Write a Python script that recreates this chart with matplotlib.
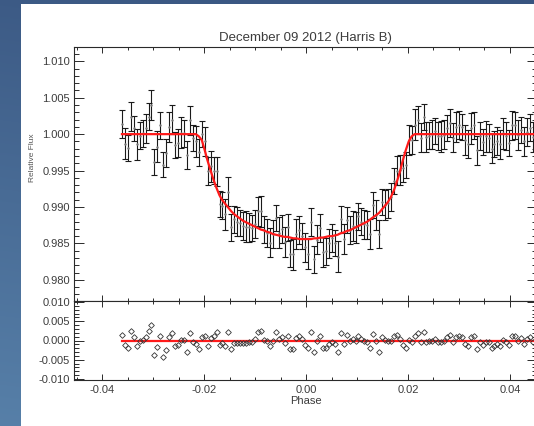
# Transit light curve, December 09 2012 (Harris B)
import numpy as np
import matplotlib
matplotlib.use("Agg")
import matplotlib.pyplot as plt
from matplotlib.patches import Rectangle
from matplotlib.ticker import MultipleLocator, FormatStrFormatter

plt.rcParams["font.family"] = ["Liberation Sans", "DejaVu Sans"]

# ── data ─────────────────────────────────────────────────────────────────────
PHASE_FIRST = -0.0361
PHASE_LAST = 0.0445

model = [1.0000] * 26 + [
    0.9997, 0.9992, 0.9978, 0.9963, 0.9950, 0.9937, 0.9926, 0.9916, 0.9909, 0.9904,
    0.9899, 0.9894, 0.9890, 0.9887, 0.9884, 0.9881, 0.9879, 0.9877, 0.9875, 0.9873,
    0.9871, 0.9869, 0.9868, 0.9866, 0.9865, 0.9863, 0.9862, 0.9861, 0.9860, 0.9859,
    0.9859, 0.9858, 0.9857, 0.9857, 0.9856, 0.9856, 0.9856, 0.9856, 0.9856, 0.9857,
    0.9857, 0.9858, 0.9858, 0.9859, 0.9860, 0.9860, 0.9861, 0.9862, 0.9864, 0.9865,
    0.9867, 0.9868, 0.9870, 0.9872, 0.9874, 0.9876, 0.9878, 0.9880, 0.9883, 0.9886,
    0.9889, 0.9892, 0.9897, 0.9902, 0.9907, 0.9914, 0.9923, 0.9935, 0.9948, 0.9964,
    0.9978, 0.9990, 0.9997, 1.0000,
] + [1.0000] * 40

resid = [
    0.0014, -0.0013, -0.0019, 0.0024, 0.0008, -0.0014, -0.0002, 0.0001, 0.0008, 0.0024,
    0.0040, -0.0038, -0.0017, 0.0012, -0.0042, -0.0026, 0.0010, 0.0020, -0.0015, -0.0012,
    0.0002, 0.0001, -0.0029, 0.0019, -0.0005, -0.0010, -0.0022, 0.0008, 0.0012, -0.0014,
    0.0006, 0.0013, 0.0023, -0.0012, -0.0007, -0.0014, 0.0022, -0.0022, -0.0007, -0.0007,
    -0.0006, -0.0007, -0.0006, -0.0005, -0.0004, 0.0004, 0.0023, 0.0025, 0.0001, -0.0002,
    -0.0014, 0.0000, 0.0023, 0.0004, 0.0010, -0.0007, 0.0013, -0.0022, -0.0022, 0.0006,
    0.0012, 0.0004, -0.0011, -0.0020, 0.0023, -0.0029, -0.0002, 0.0013, -0.0020, -0.0020,
    -0.0010, -0.0003, -0.0010, -0.0030, 0.0019, -0.0009, 0.0015, 0.0000, 0.0004, 0.0000,
    0.0013, 0.0004, -0.0002, -0.0005, -0.0020, 0.0017, 0.0000, -0.0029, 0.0010, 0.0001,
    -0.0002, 0.0000, 0.0013, 0.0015, 0.0003, -0.0011, -0.0020, 0.0002, -0.0005, 0.0013,
    0.0019, -0.0005, 0.0023, -0.0004, -0.0002, 0.0000, 0.0004, -0.0003, -0.0003, -0.0001,
    0.0008, 0.0015, -0.0005, 0.0010, 0.0013, 0.0010, -0.0008, -0.0014, 0.0008, 0.0012,
    -0.0022, -0.0003, -0.0011, -0.0003, -0.0005, -0.0020, -0.0014, -0.0009, -0.0014, 0.0001,
    -0.0003, -0.0012, 0.0012, 0.0012, -0.0001, 0.0006, -0.0010, 0.0003, 0.0009, -0.0004,
]

err = [
    0.0019, 0.0021, 0.0018, 0.0020, 0.0017, 0.0021, 0.0019, 0.0018, 0.0020, 0.0019,
    0.0020, 0.0018, 0.0021, 0.0019, 0.0017, 0.0019, 0.0021, 0.0020, 0.0018, 0.0019,
    0.0021, 0.0018, 0.0019, 0.0020, 0.0018, 0.0021, 0.0019, 0.0018, 0.0020, 0.0019,
    0.0021, 0.0019, 0.0020, 0.0018, 0.0019, 0.0021, 0.0020, 0.0018, 0.0019, 0.0020,
    0.0018, 0.0019, 0.0021, 0.0020, 0.0018, 0.0019, 0.0020, 0.0021, 0.0018, 0.0019,
    0.0020, 0.0019, 0.0018, 0.0021, 0.0019, 0.0020, 0.0018, 0.0019, 0.0021, 0.0020,
    0.0019, 0.0018, 0.0020, 0.0021, 0.0019, 0.0018, 0.0020, 0.0019, 0.0021, 0.0018,
    0.0020, 0.0019, 0.0018, 0.0021, 0.0019, 0.0020, 0.0018, 0.0019, 0.0020, 0.0021,
    0.0019, 0.0018, 0.0020, 0.0019, 0.0021, 0.0018, 0.0020, 0.0019, 0.0018, 0.0021,
    0.0020, 0.0019, 0.0018, 0.0020, 0.0021, 0.0019, 0.0018, 0.0020, 0.0019, 0.0021,
    0.0019, 0.0020, 0.0018, 0.0021, 0.0019, 0.0020, 0.0018, 0.0019, 0.0021, 0.0020,
    0.0018, 0.0019, 0.0020, 0.0021, 0.0019, 0.0018, 0.0020, 0.0019, 0.0021, 0.0018,
    0.0020, 0.0019, 0.0018, 0.0021, 0.0019, 0.0020, 0.0018, 0.0019, 0.0020, 0.0021,
    0.0019, 0.0018, 0.0020, 0.0019, 0.0021, 0.0018, 0.0020, 0.0019, 0.0018, 0.0020,
]

phase = np.linspace(PHASE_FIRST, PHASE_LAST, len(model))
model = np.array(model)
resid = np.array(resid)
flux = model + resid

TITLE = "December 09 2012 (Harris B)"
INK = "#2a2a2a"
LBL = "#3c3c3c"
W, H = 534, 426

# ── figure + blue backdrop ───────────────────────────────────────────────────
fig = plt.figure(figsize=(W / 100, H / 100), dpi=100)
bg = fig.add_axes([0, 0, 1, 1])
yy, xx = np.mgrid[0:1:200j, 0:1:200j]
c_top = np.array([0.22, 0.33, 0.50])
c_bot = np.array([0.34, 0.50, 0.66])
t = (yy * 0.85 + (1 - xx) * 0.15)[..., None]
bg.imshow(c_top * (1 - t) + c_bot * t, extent=[0, 1, 0, 1], aspect="auto", origin="upper")
bg.add_patch(Rectangle((21 / W, 0), 1, 1 - 4 / H, facecolor="white", edgecolor="none"))
bg.set_xlim(0, 1)
bg.set_ylim(0, 1)
bg.axis("off")

left = 74 / W
width = 463 / W
ax1 = fig.add_axes([left, 1 - 301 / H, width, (301 - 46.7) / H])
ax2 = fig.add_axes([left, 1 - 380 / H, width, 79 / H], sharex=ax1)

# upper panel: flux with error bars + model
ax1.errorbar(phase, flux, yerr=err, fmt=".", ms=1.5, color="#777777",
             ecolor="#1a1a1a", elinewidth=0.8, capsize=1.9, capthick=0.8, zorder=2)
ax1.plot(phase, model, color="#ff1a1a", lw=1.6, zorder=3)
ax1.set_ylim(0.9771, 1.0120)
ax1.yaxis.set_major_locator(MultipleLocator(0.005))
ax1.yaxis.set_minor_locator(MultipleLocator(0.001))
ax1.yaxis.set_major_formatter(FormatStrFormatter("%.3f"))
ax1.tick_params(axis="x", labelbottom=False)
ax1.set_title(TITLE, fontsize=9.5, color=LBL, pad=4)

# lower panel: residuals
ax2.plot(phase, np.zeros_like(phase), color="#ff1a1a", lw=1.6, zorder=2)
ax2.plot(phase, resid, "D", ms=2.9, mfc="none", mec="#333333", mew=0.6, zorder=3)
ax2.set_ylim(-0.0103, 0.0103)
ax2.yaxis.set_major_locator(MultipleLocator(0.005))
ax2.yaxis.set_minor_locator(MultipleLocator(0.001))
ax2.yaxis.set_major_formatter(FormatStrFormatter("%.3f"))
ax2.set_xlim(-0.0455, 0.0453)
ax2.xaxis.set_major_locator(MultipleLocator(0.02))
ax2.xaxis.set_minor_locator(MultipleLocator(0.005))
ax2.xaxis.set_major_formatter(FormatStrFormatter("%.2f"))
ax2.set_xlabel("Phase", fontsize=8, color=LBL, labelpad=1)

for ax in (ax1, ax2):
    for s in ax.spines.values():
        s.set_color(INK)
        s.set_linewidth(0.8)
    ax.tick_params(which="both", direction="in", top=True, right=True,
                   color=INK, labelcolor=LBL, labelsize=8, width=0.7)
    ax.tick_params(axis="y", which="major", length=7.5, pad=3)
    ax.tick_params(axis="y", which="minor", length=3.5)
    ax.tick_params(axis="x", which="major", length=4)
    ax.tick_params(axis="x", which="minor", length=2)

fig.text(33 / W, 1 - 158 / H, "Relative Flux", rotation=90, fontsize=6,
         color="#555555", ha="center", va="center")

fig.savefig("out.png", dpi=100)
